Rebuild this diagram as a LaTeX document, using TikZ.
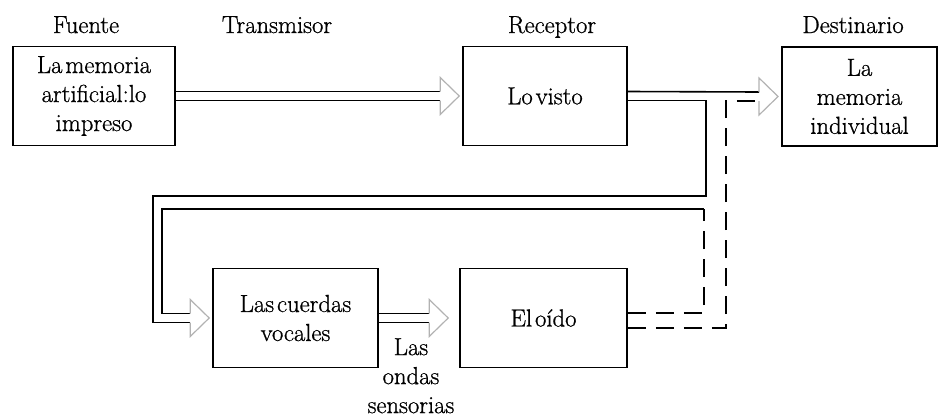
\documentclass[tikz,border=0pt]{standalone}
\usepackage{fontspec}
\setmainfont{Latin Modern Roman}[FakeBold=0.8]
\usepackage{tikz}
\usetikzlibrary{calc}
\newcommand{\tightspace}{\spaceskip=0.12em\relax}
\tikzset{
    blockbox/.style = {rectangle, draw=black, line width=1.2pt, align=center, inner sep=0pt, minimum height=74pt},
    headtext/.style = {anchor=base, inner sep=0pt},
    shaft/.style = {line width=1.2pt, black},
    dshaft/.style = {line width=1.2pt, black, dash pattern=on 14pt off 7pt},
    tipline/.style = {gray!60, line width=0.9pt},
    hollowhead/.pic = {\draw[tipline] (-19,-4.5) -- (-19,-18.5) -- (0,0) -- (-19,18.5) -- (-19,4.5);},
}

\begin{document}
\begin{tikzpicture}[
	x=0.75pt, y=-0.75pt,
	font=\fontsize{18.5}{21.75}\selectfont\tightspace
]
\useasboundingbox (0,0) rectangle (938,418);
\node[headtext] at (86,33)  (hfuente) {Fuente};
\node[headtext] at (277,33) (htrans) {Transmisor};
\node[headtext] at (552,33) (hrecep) {Receptor};
\node[headtext] at (853,33) (hdest) {Destinario};
%
\node[blockbox, minimum width=121.5pt] at (94,96)    (fuente)   {La memoria\\artificial:lo\\impreso};
\node[blockbox, minimum width=123pt]   at (545,96)   (receptor) {Lo visto};
\node[blockbox, minimum width=116.5pt] at (859.5,96.5) (destino) {La\\memoria\\individual};
\node[blockbox, minimum width=123.75pt] at (295.5,318) (cuerdas) {Las cuerdas\\vocales};
\node[blockbox, minimum width=125.25pt] at (543.5,318) (oido)    {El oído};
\node[align=center, anchor=north, inner sep=0pt] at (411,338) (ondas) {Las\\ondas\\sensorias};
%
\draw[shaft] ($(fuente.east)+(0,-4.5)$) -- ($(receptor.west)+(-22,-4.5)$);
\draw[shaft] ($(fuente.east)+(0,4.5)$) -- ($(receptor.west)+(-22,4.5)$);
\pic at ($(receptor.west)+(-3,0)$) {hollowhead};
%
\draw[shaft] ($(receptor.east)+(0,-4.5)$) -- ($(destino.west)+(-22,-4.5)$);
\draw[dshaft] ($(oido.east)+(0,10)$) -| ($(destino.west)+(-55,4.5)$) -- ($(destino.west)+(-22,4.5)$);
\pic at ($(destino.west)+(-3,0)$) {hollowhead};
%
\draw[shaft] ($(receptor.east)+(0,4.5)$) -| (706,196) -- (153,196) |- ($(cuerdas.west)+(-22,4.5)$);
\draw[dshaft] ($(oido.east)+(0,-5)$) -| (704,209);
\draw[shaft] (704,209) -- (162,209) |- ($(cuerdas.west)+(-22,-4.5)$);
\pic at ($(cuerdas.west)+(-3,0)$) {hollowhead};
%
\draw[shaft] ($(cuerdas.east)+(0,-4.5)$) -- ($(oido.west)+(-30,-4.5)$);
\draw[shaft] ($(cuerdas.east)+(0,4.5)$) -- ($(oido.west)+(-30,4.5)$);
\pic at ($(oido.west)+(-11,0)$) {hollowhead};
\end{tikzpicture}
\end{document}
